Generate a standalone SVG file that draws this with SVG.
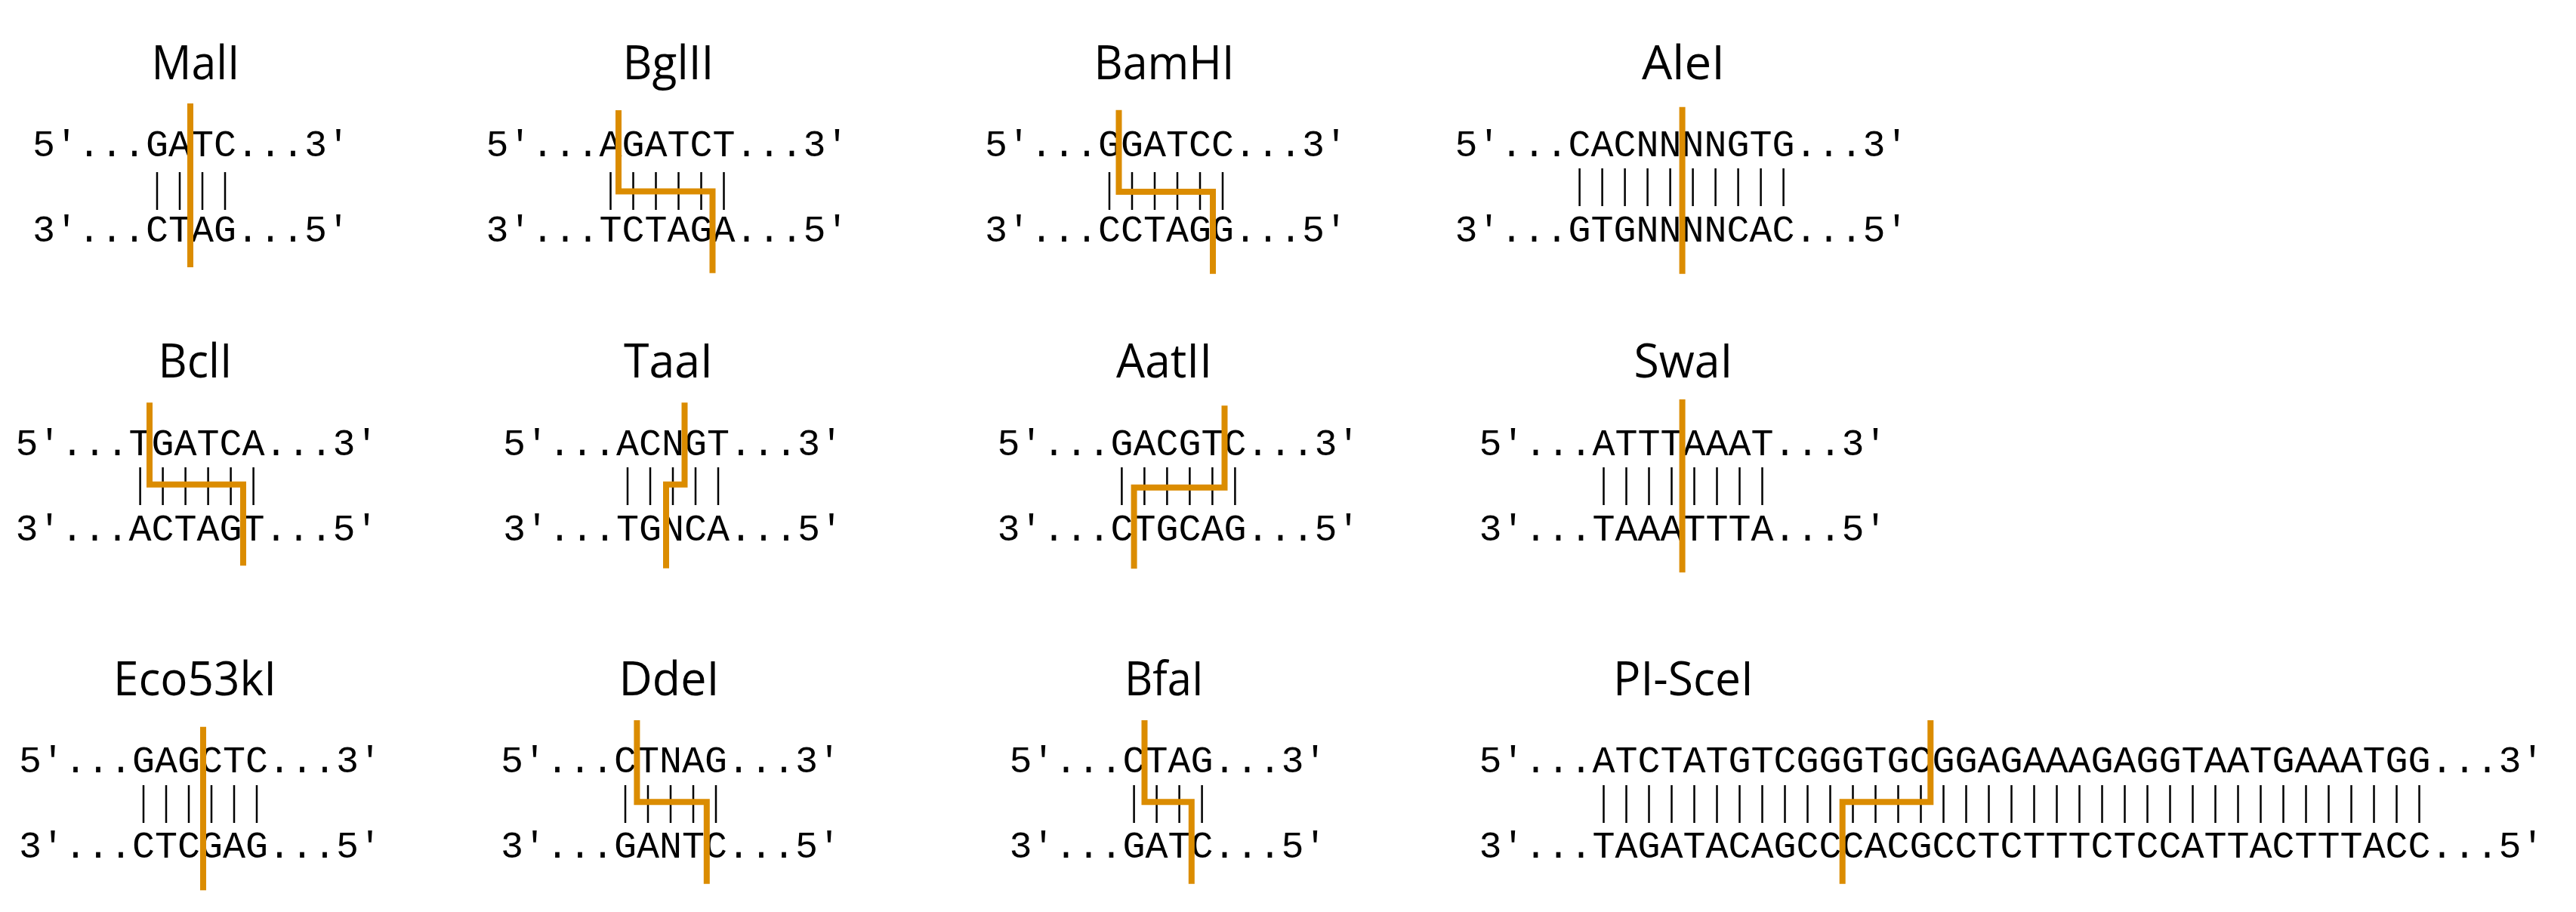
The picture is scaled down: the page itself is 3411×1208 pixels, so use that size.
<svg xmlns="http://www.w3.org/2000/svg" width="3411" height="1208" viewBox="0 0 3411 1208">
<style>
.t{font-family:"Open Sans","Noto Sans","Liberation Sans",sans-serif;font-size:63px;fill:#000;text-anchor:middle}
.s{font-family:"Liberation Mono","DejaVu Sans Mono",monospace;font-size:50px;fill:#000}
.p{stroke:#000;stroke-width:2.5;fill:none}
.c{stroke:#DB8C00;stroke-width:8;fill:none;stroke-linejoin:miter;stroke-linecap:butt}
</style>
<rect width="3411" height="1208" fill="#fff"/>

<g id="MalI">
<text class="t" x="259" y="105" textLength="117" lengthAdjust="spacingAndGlyphs">MalI</text>
<text class="s" x="43" y="207" textLength="420">5′...GATC...3′</text>
<text class="s" x="43" y="320" textLength="420">3′...CTAG...5′</text>
<path class="p" d="M208,228V278M238,228V278M268,228V278M298,228V278"/>
</g>

<g id="BglII">
<text class="t" x="885" y="105" textLength="121" lengthAdjust="spacingAndGlyphs">BglII</text>
<text class="s" x="643.5" y="207" textLength="480">5′...AGATCT...3′</text>
<text class="s" x="643.5" y="320" textLength="480">3′...TCTAGA...5′</text>
<path class="p" d="M808.5,228V278M838.5,228V278M868.5,228V278M898.5,228V278M928.5,228V278M958.5,228V278"/>
</g>

<g id="BamHI">
<text class="t" x="1541.5" y="105" textLength="186" lengthAdjust="spacingAndGlyphs">BamHI</text>
<text class="s" x="1304" y="207" textLength="480">5′...GGATCC...3′</text>
<text class="s" x="1304" y="320" textLength="480">3′...CCTAGG...5′</text>
<path class="p" d="M1469,228V278M1499,228V278M1529,228V278M1559,228V278M1589,228V278M1619,228V278"/>
</g>

<g id="AleI">
<text class="t" x="2229" y="105" textLength="110" lengthAdjust="spacingAndGlyphs">AleI</text>
<text class="s" x="1926.6" y="207" textLength="600">5′...CACNNNNGTG...3′</text>
<text class="s" x="1926.6" y="320" textLength="600">3′...GTGNNNNCAC...5′</text>
<path class="p" d="M2091.6,223V273M2121.6,223V273M2151.6,223V273M2181.6,223V273M2211.6,223V273M2241.6,223V273M2271.6,223V273M2301.6,223V273M2331.6,223V273M2361.6,223V273"/>
</g>

<g id="BclI">
<text class="t" x="258.5" y="500" textLength="98" lengthAdjust="spacingAndGlyphs">BclI</text>
<text class="s" x="20.6" y="603" textLength="480">5′...TGATCA...3′</text>
<text class="s" x="20.6" y="716" textLength="480">3′...ACTAGT...5′</text>
<path class="p" d="M185.6,619V669M215.6,619V669M245.6,619V669M275.6,619V669M305.6,619V669M335.6,619V669"/>
</g>

<g id="TaaI">
<text class="t" x="885" y="500" textLength="118" lengthAdjust="spacingAndGlyphs">TaaI</text>
<text class="s" x="666" y="603" textLength="450">5′...ACNGT...3′</text>
<text class="s" x="666" y="716" textLength="450">3′...TGNCA...5′</text>
<path class="p" d="M831,619V669M861,619V669M891,619V669M921,619V669M951,619V669"/>
</g>

<g id="AatII">
<text class="t" x="1541.5" y="500" textLength="127" lengthAdjust="spacingAndGlyphs">AatII</text>
<text class="s" x="1320.4" y="603" textLength="480">5′...GACGTC...3′</text>
<text class="s" x="1320.4" y="716" textLength="480">3′...CTGCAG...5′</text>
<path class="p" d="M1485.4,619V669M1515.4,619V669M1545.4,619V669M1575.4,619V669M1605.4,619V669M1635.4,619V669"/>
</g>

<g id="SwaI">
<text class="t" x="2229" y="500" textLength="131" lengthAdjust="spacingAndGlyphs">SwaI</text>
<text class="s" x="1958.5" y="603" textLength="540">5′...ATTTAAAT...3′</text>
<text class="s" x="1958.5" y="716" textLength="540">3′...TAAATTTA...5′</text>
<path class="p" d="M2123.5,619V669M2153.5,619V669M2183.5,619V669M2213.5,619V669M2243.5,619V669M2273.5,619V669M2303.5,619V669M2333.5,619V669"/>
</g>

<g id="Eco53kI">
<text class="t" x="258" y="921" textLength="216" lengthAdjust="spacingAndGlyphs">Eco53kI</text>
<text class="s" x="25" y="1023" textLength="480">5′...GAGCTC...3′</text>
<text class="s" x="25" y="1136" textLength="480">3′...CTCGAG...5′</text>
<path class="p" d="M190,1040V1090M220,1040V1090M250,1040V1090M280,1040V1090M310,1040V1090M340,1040V1090"/>
</g>

<g id="DdeI">
<text class="t" x="886" y="921" textLength="133" lengthAdjust="spacingAndGlyphs">DdeI</text>
<text class="s" x="663" y="1023" textLength="450">5′...CTNAG...3′</text>
<text class="s" x="663" y="1136" textLength="450">3′...GANTC...5′</text>
<path class="p" d="M828,1040V1090M858,1040V1090M888,1040V1090M918,1040V1090M948,1040V1090"/>
</g>

<g id="BfaI">
<text class="t" x="1541.5" y="921" textLength="105" lengthAdjust="spacingAndGlyphs">BfaI</text>
<text class="s" x="1336.6" y="1023" textLength="420">5′...CTAG...3′</text>
<text class="s" x="1336.6" y="1136" textLength="420">3′...GATC...5′</text>
<path class="p" d="M1501.6,1040V1090M1531.6,1040V1090M1561.6,1040V1090M1591.6,1040V1090"/>
</g>

<g id="PI-SceI">
<text class="t" x="2229" y="921" textLength="186" lengthAdjust="spacingAndGlyphs">PI-SceI</text>
<text class="s" x="1958.5" y="1023" textLength="1410">5′...ATCTATGTCGGGTGCGGAGAAAGAGGTAATGAAATGG...3′</text>
<text class="s" x="1958.5" y="1136" textLength="1410">3′...TAGATACAGCCCACGCCTCTTTCTCCATTACTTTACC...5′</text>
<path class="p" d="M2123.5,1040V1090M2153.5,1040V1090M2183.5,1040V1090M2213.5,1040V1090M2243.5,1040V1090M2273.5,1040V1090M2303.5,1040V1090M2333.5,1040V1090M2363.5,1040V1090M2393.5,1040V1090M2423.5,1040V1090M2453.5,1040V1090M2483.5,1040V1090M2513.5,1040V1090M2543.5,1040V1090M2573.5,1040V1090M2603.5,1040V1090M2633.5,1040V1090M2663.5,1040V1090M2693.5,1040V1090M2723.5,1040V1090M2753.5,1040V1090M2783.5,1040V1090M2813.5,1040V1090M2843.5,1040V1090M2873.5,1040V1090M2903.5,1040V1090M2933.5,1040V1090M2963.5,1040V1090M2993.5,1040V1090M3023.5,1040V1090M3053.5,1040V1090M3083.5,1040V1090M3113.5,1040V1090M3143.5,1040V1090M3173.5,1040V1090M3203.5,1040V1090"/>
</g>

<g id="cuts">
<path class="c" d="M252,137V354"/>
<path class="c" d="M819,146V253.5H943.5V361.7"/>
<path class="c" d="M1481.5,145.7V254H1606V362.7"/>
<path class="c" d="M2227.6,141.7V362.7"/>
<path class="c" d="M198,533.3V641.7H322V749.3"/>
<path class="c" d="M906.5,533.3V641.7H882V752.7"/>
<path class="c" d="M1621.5,537.3V645.7H1501.6V753.3"/>
<path class="c" d="M2227.6,529V758.3"/>
<path class="c" d="M269,962.7V1179.3"/>
<path class="c" d="M843.4,954V1062.3H935.8V1170.7"/>
<path class="c" d="M1515.5,954V1062.3H1577.8V1170.7"/>
<path class="c" d="M2556.3,954V1062.3H2439.7V1170.7"/>
</g>
</svg>
